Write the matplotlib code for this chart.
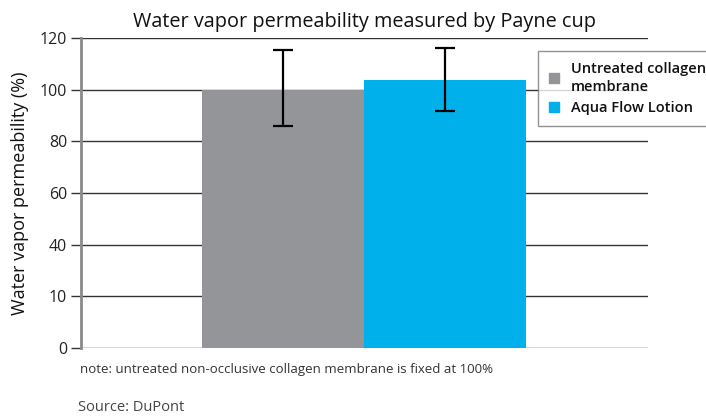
import numpy as np
import matplotlib.pyplot as plt

# data
categories = ["Untreated collagen\nmembrane", "Aqua Flow Lotion"]
values = [100.0, 103.7]
err_low = [85.9, 91.7]
err_high = [115.4, 116.1]
colors = ["#939598", "#00b0eb"]
tick_pos = [0, 20, 40, 60, 80, 100, 120]
tick_labels = ["0", "10", "40", "60", "80", "100", "120"]

plt.rcParams['font.family'] = ['Open Sans', 'DejaVu Sans']

fig = plt.figure(figsize=(7.06, 4.19), dpi=100)
ax = fig.add_axes([0.1147, 0.1695, 0.8031, 0.7398])

x = np.arange(len(values)) + 1.25
yerr = [np.array(values) - np.array(err_low), np.array(err_high) - np.array(values)]
bars = ax.bar(x, values, width=1.0, color=colors, zorder=3, label=None)
ax.errorbar(x, values, yerr=yerr, fmt="none", ecolor="black", elinewidth=1.6,
            capsize=7, capthick=1.6, zorder=4)

ax.set_xlim(0, 3.5)
ax.set_ylim(0, 120)
ax.set_yticks(tick_pos)
ax.set_yticklabels(tick_labels, fontsize=11.5, color="#222222")
ax.set_xticks([])
ax.tick_params(axis="y", length=7, width=1, color="#333333", pad=3)
for y in tick_pos:
    ax.axhline(y, color="#333333", lw=1, zorder=1)
for s in ["top", "right", "bottom"]:
    ax.spines[s].set_visible(False)
ax.spines["left"].set_color("#8a8a8a")
ax.spines["left"].set_linewidth(2)
ax.spines["left"].set_zorder(5)

ax.set_ylabel("Water vapor permeability (%)", fontsize=13, color="#111111", labelpad=8)
ax.set_title("Water vapor permeability measured by Payne cup", fontsize=14.3,
             color="#111111", pad=8)

handles = [plt.Rectangle((0, 0), 1, 1, color=c) for c in colors]
leg = ax.legend(handles, categories, loc="upper left", bbox_to_anchor=(0.806, 0.958),
                fontsize=10.5, frameon=True, fancybox=False, handlelength=0.7,
                handleheight=0.7, handletextpad=0.8, borderpad=0.75, labelspacing=0.5,
                borderaxespad=0)
leg.get_frame().set_edgecolor("#777777")
leg.get_frame().set_linewidth(1)
leg.set_zorder(6)
leg.set_clip_on(False)
for t in leg.get_texts():
    t.set_fontweight("semibold")
    t.set_color("#111111")
    t.set_linespacing(1.35)

fig.text(0.113, 0.117, "note: untreated non-occlusive collagen membrane is fixed at 100%",
         fontsize=9.5, color="#333333", va="center")
fig.text(0.11, 0.028, "Source: DuPont", fontsize=10.5, color="#444444", va="center")

fig.savefig("out.png", dpi=100)
